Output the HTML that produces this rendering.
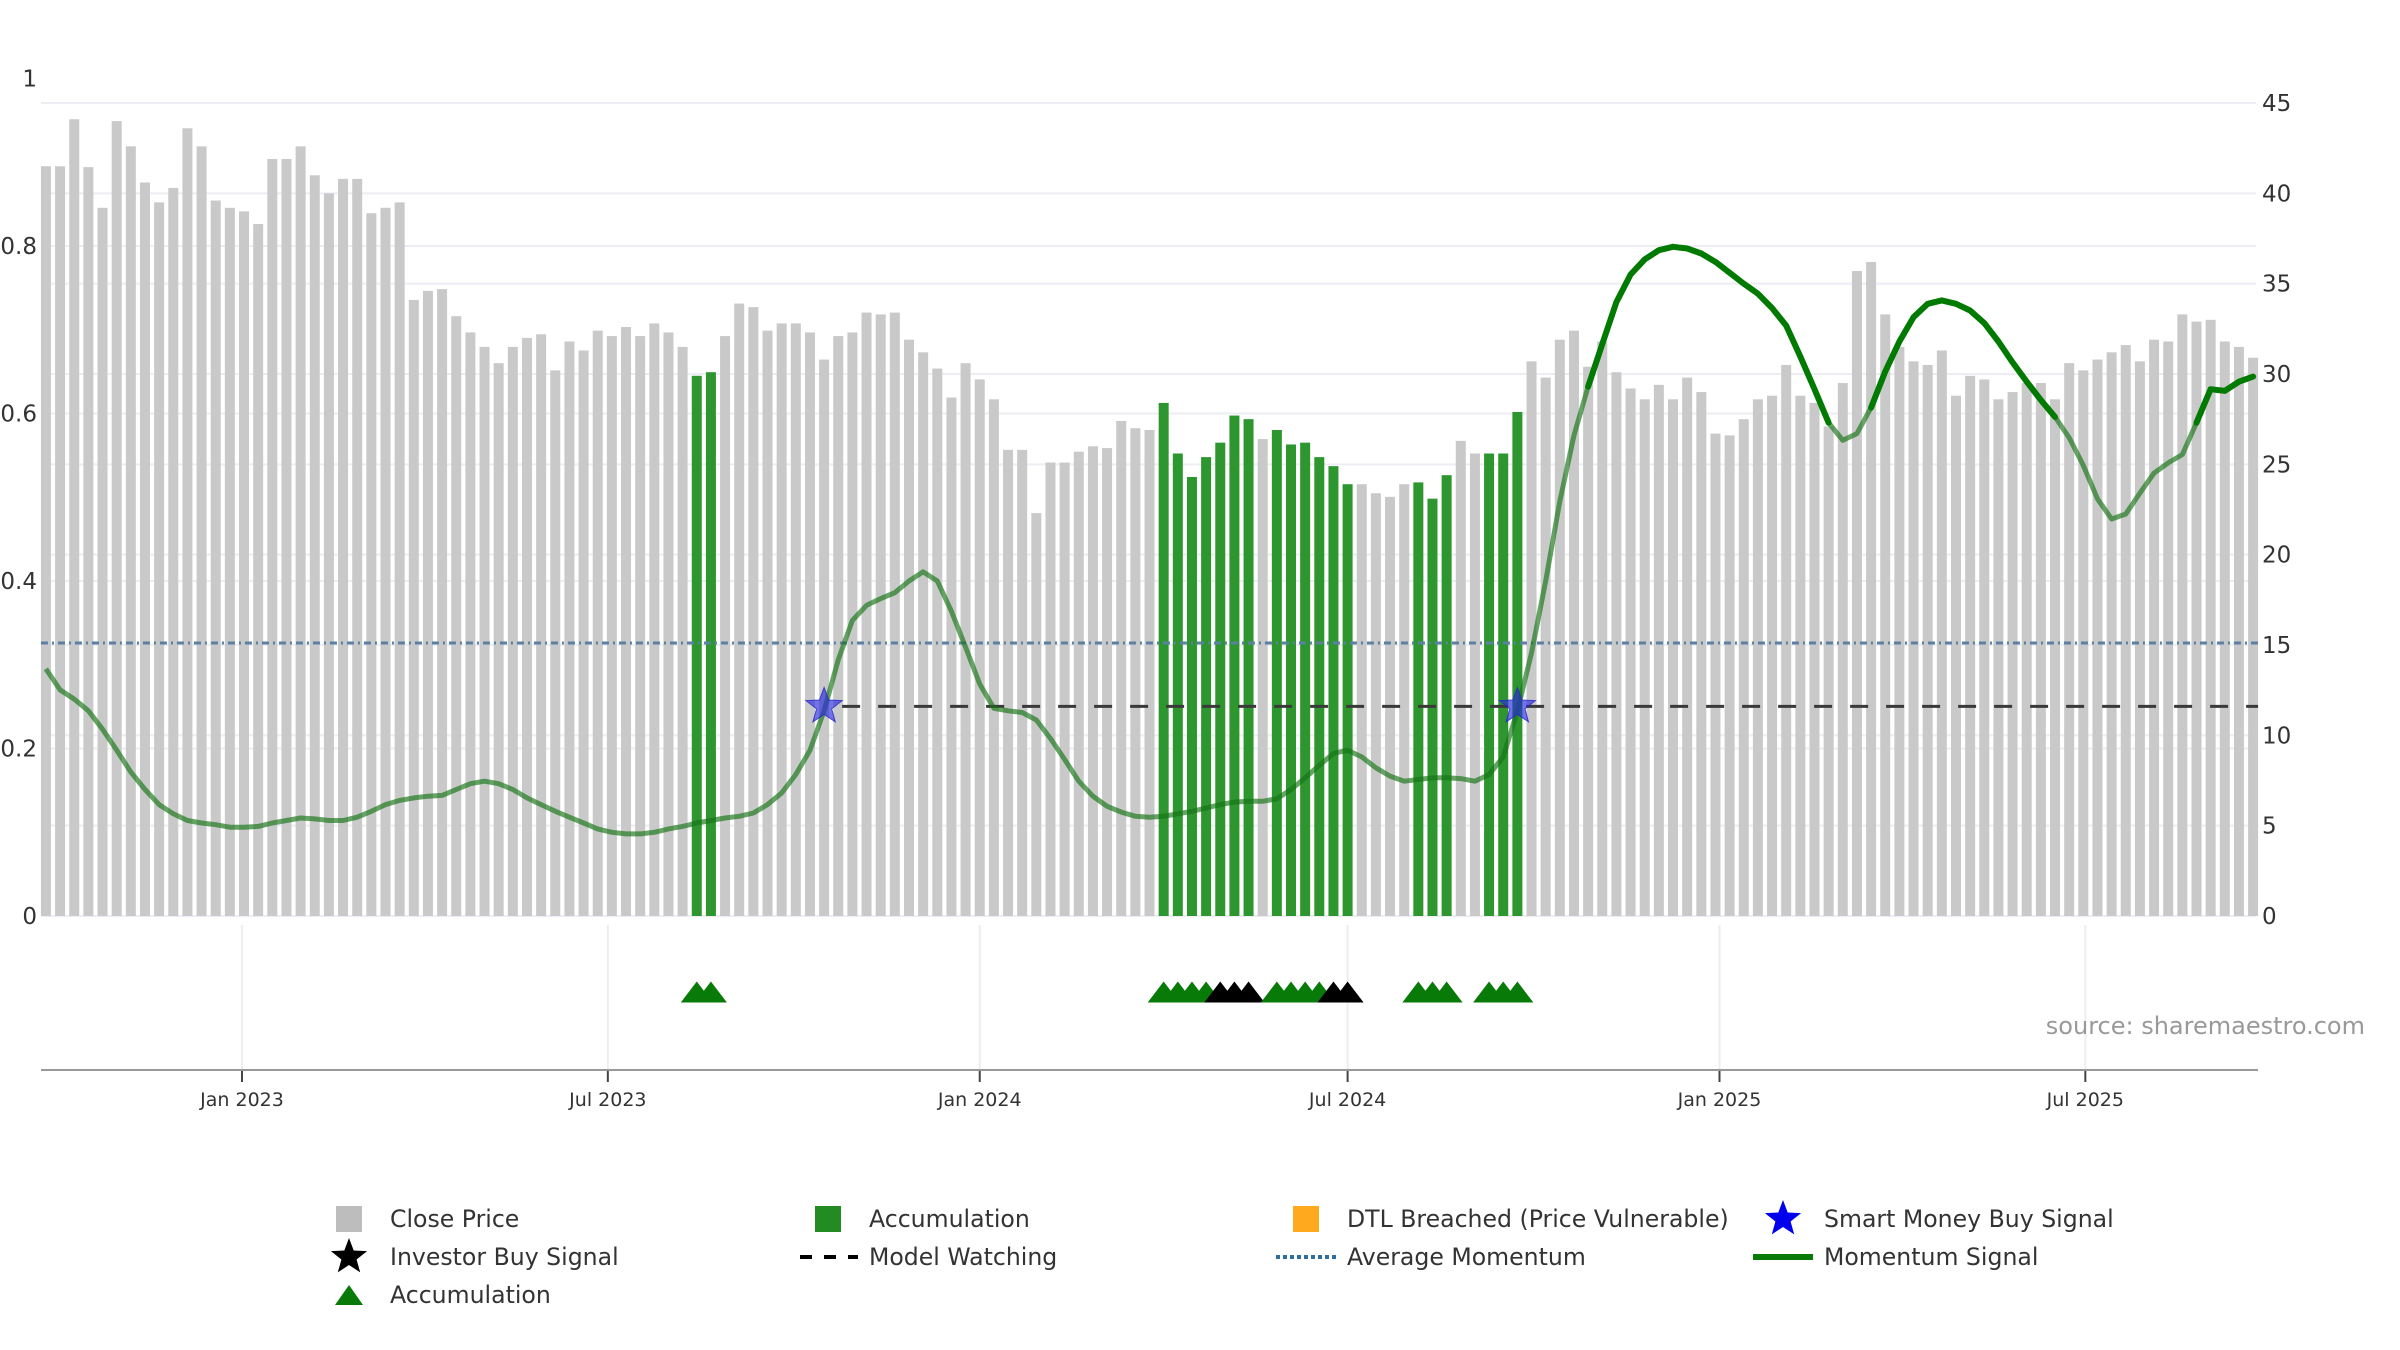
<!DOCTYPE html>
<html>
<head>
<meta charset="utf-8">
<style>
html,body{margin:0;padding:0;background:#fff;}
svg{display:block;font-family:"DejaVu Sans","Liberation Sans",sans-serif;}
</style>
</head>
<body>
<svg id="chart" width="2400" height="1350" viewBox="0 0 2400 1350" xmlns="http://www.w3.org/2000/svg">
  <g id="grid"></g>
  <g id="bars"></g>
  <g id="lines"></g>
  <g id="markers"></g>
  <g id="axes"></g>
  <text x="2365" y="1034" text-anchor="end" font-size="24" fill="#999">source: sharemaestro.com</text>
  <g id="legend"></g>
</svg>
<script>
// ---- data ----
const startDate = "2022-09-26";
const closePrice = [41.5,41.5,44.1,41.45,39.2,44.0,42.6,40.6,39.5,40.3,43.6,42.6,39.6,39.2,39.0,38.3,41.9,41.9,42.6,41.0,40.0,40.8,40.8,38.9,39.2,39.5,34.1,34.6,34.7,33.2,32.3,31.5,30.6,31.5,32.0,32.2,30.2,31.8,31.3,32.4,32.1,32.6,32.1,32.8,32.3,31.5,29.9,30.1,32.1,33.9,33.7,32.4,32.8,32.8,
32.3,30.8,32.1,32.3,33.4,33.3,33.4,31.9,31.2,30.3,28.7,30.6,29.7,28.6,25.8,25.8,22.3,25.1,25.1,25.7,26.0,25.9,27.4,27.0,26.9,28.4,25.6,24.3,25.4,26.2,27.7,27.5,26.4,26.9,26.1,26.2,25.4,24.9,23.9,23.9,23.4,23.2,23.9,24.0,23.1,24.4,26.3,25.6,25.6,25.6,27.9,30.7,29.8,31.9,32.4,30.4,31.8,30.1,
29.2,28.6,29.4,28.6,29.8,29.0,26.7,26.6,27.5,28.6,28.8,30.5,28.8,28.4,27.1,29.5,35.7,36.2,33.3,31.5,30.7,30.5,31.3,28.8,29.9,29.7,28.6,29.0,29.5,29.5,28.6,30.6,30.2,30.8,31.2,31.6,30.7,31.9,31.8,33.3,32.9,33.0,31.8,31.5,30.9];
const momentum = [.295,.27,.259,.245,.223,.198,.172,.151,.133,.122,.114,.111,.109,.106,.106,.107,.111,.114,.117,.116,.114,.114,.118,.125,.133,.138,.141,.143,.144,.151,.158,.161,.158,.151,.141,.133,.125,.118,.111,.104,.100,.098,.098,.100,.104,.107,.111,.114,.117,.119,.123,.133,.147,.169,.198,.245,.306,.353,.371,.379,.386,.40,.411,.40,.364,.321,.277,.248,.245,.243,.234,.212,.187,.161,.143,.131,.124,.119,.118,.119,.122,.125,.129,.133,.136,.137,.137,.14,.151,.165,.18,.194,.198,.19,.177,.167,.161,.163,.165,.165,.164,.161,.169,.19,.245,.314,.40,.495,.574,.632,.683,.733,.766,.784,.795,.799,.797,.791,.781,.768,.755,.743,.726,.705,.668,.629,.589,.568,.576,.607,.65,.686,.715,.731,.735,.731,.723,.708,.686,.661,.638,.616,.596,.571,.538,.498,.474,.48,.505,.529,.541,.551,.589,.629,.627,.638,.644];
const accumulationWeeks = [46,47,79,80,81,82,83,84,85,87,88,89,90,91,92,97,98,99,102,103,104];
const investorBuyWeeks = [83,84,85,91,92];
const smartMoneyWeeks = [55,104];
const smartMoneyLevel = 11.6;
const avgMomentum = 0.326;
const leftTicks = [0,0.2,0.4,0.6,0.8,1];
const leftTickLabels = ["0","0.2","0.4","0.6","0.8","1"];
const rightTicks = [0,5,10,15,20,25,30,35,40,45];
const monthTicks = ["2023-01-01","2023-07-01","2024-01-01","2024-07-01","2025-01-01","2025-07-01"];
const monthLabels = ["Jan 2023","Jul 2023","Jan 2024","Jul 2024","Jan 2025","Jul 2025"];

// ---- scales ----
const NS = "http://www.w3.org/2000/svg";
const X0 = 41, X1 = 2256, BASE = 916;
const origin = Date.UTC(2023,0,1);
function dayOf(s){ const p=s.split("-"); return (Date.UTC(+p[0],+p[1]-1,+p[2])-origin)/86400000; }
function xDay(d){ return 242 + d*2.0212; }
const startDay = dayOf(startDate);
function xIdx(i){ return xDay(startDay + 7*i); }
function yR(v){ return BASE - v*(813/45); }
function yL(v){ return BASE - v*837.5; }
function el(tag, attrs, parent){ const e=document.createElementNS(NS,tag); for(const k in attrs) e.setAttribute(k,attrs[k]); parent.appendChild(e); return e; }
function starPts(cx,cy,R){ const r=R*0.42; let p=[]; for(let k=0;k<10;k++){ const a=-Math.PI/2+k*Math.PI/5; const rr=k%2?r:R; p.push((cx+rr*Math.cos(a)).toFixed(1)+","+(cy+rr*Math.sin(a)).toFixed(1)); } return p.join(" "); }
function triPts(cx,cy,w,h){ return (cx-w/2)+","+(cy+h/2)+" "+cx+","+(cy-h/2)+" "+(cx+w/2)+","+(cy+h/2); }

const grid=document.getElementById("grid"), bars=document.getElementById("bars"), lines=document.getElementById("lines"), markers=document.getElementById("markers"), axes=document.getElementById("axes"), legend=document.getElementById("legend");

// gridlines
rightTicks.forEach(v=>{
  const g = el("line",{x1:X0,x2:X1,y1:yR(v),y2:yR(v),stroke:"#eceef3","stroke-width":2},grid);
  
  
  const t = el("text",{x:2262,y:yR(v)+8,"font-size":23,fill:"#333"},axes);
  t.textContent=String(v);
  
  
});
leftTicks.forEach((v,i)=>{
  if(v>0 && v<1){
    const g = el("line",{x1:X0,x2:X1,y1:yL(v),y2:yL(v),stroke:"#eceef3","stroke-width":2},grid);
    
    
  }
  const t = el("text",{x:37,y:yL(v)+8,"font-size":23,fill:"#333","text-anchor":"end"},axes);
  t.textContent=leftTickLabels[i];
  
  
});
monthTicks.forEach((m,i)=>{
  const x=xDay(dayOf(m));
  const g = el("line",{x1:x,x2:x,y1:925,y2:1070,stroke:"#eceef3","stroke-width":2},grid);
  
  
  const tk = el("line",{x1:x,x2:x,y1:1070,y2:1082,stroke:"#444","stroke-width":2},axes);
  
  
  const t = el("text",{x:x,y:1106,"font-size":19,fill:"#333","text-anchor":"middle"},axes);
  t.textContent=monthLabels[i];
  
  
});
const ax = el("line",{x1:X0,x2:X1+2,y1:1070,y2:1070,stroke:"#999","stroke-width":2},axes);



// bars
closePrice.forEach((v,i)=>{
  const acc = accumulationWeeks.includes(i);
  const b = el("rect",{x:xIdx(i)-5,y:yR(v),width:10,height:BASE-yR(v),fill:acc?"#2e962e":"#c9c9c9"},bars);
  
  
});

// average momentum
const am = el("line",{x1:xIdx(0)-5,x2:xIdx(closePrice.length-1)+5,y1:yL(avgMomentum),y2:yL(avgMomentum),stroke:"#5b80a3","stroke-width":3,"stroke-dasharray":"7 4 2 4"},lines);



// model watching
const mw = el("line",{x1:xIdx(smartMoneyWeeks[0])+18,x2:xIdx(closePrice.length-1)+5,y1:yR(smartMoneyLevel),y2:yR(smartMoneyLevel),stroke:"#3a3a3a","stroke-width":3,"stroke-dasharray":"18 18"},lines);



// momentum line
let d="";
momentum.forEach((v,i)=>{ d+=(i?"L":"M")+xIdx(i).toFixed(1)+","+yL(v).toFixed(1); });
const ml = el("path",{d:d,fill:"none",stroke:"rgba(20,115,20,0.65)","stroke-width":5,"stroke-linejoin":"round"},lines);


let ds="";
for(let i=0;i<momentum.length-1;i++){
  if(Math.min(momentum[i],momentum[i+1])>=0.58){
    ds+="M"+xIdx(i).toFixed(1)+","+yL(momentum[i]).toFixed(1)+"L"+xIdx(i+1).toFixed(1)+","+yL(momentum[i+1]).toFixed(1);
  }
}
const ms = el("path",{d:ds,fill:"none",stroke:"#007a00","stroke-width":6,"stroke-linecap":"round"},lines);



// stars
smartMoneyWeeks.forEach(i=>{
  const s = el("polygon",{points:starPts(xIdx(i),yR(smartMoneyLevel),19),fill:"rgba(40,40,220,0.65)",stroke:"rgba(40,40,200,0.8)","stroke-width":1},markers);
  
  
});
// triangles
accumulationWeeks.forEach(i=>{
  const blk = investorBuyWeeks.includes(i);
  const t = el("polygon",{points:triPts(xIdx(i),992,32,21),fill:blk?"#000":"#087a08"},markers);
  
  
});

// legend
const cols=[349,828,1306,1783], rows=[1219,1257,1295];
const items=[
 {c:0,r:0,t:"Close Price",k:"sq",f:"#bdbdbd",n:"legend-close-price"},
 {c:1,r:0,t:"Accumulation",k:"sq",f:"#228b22",n:"legend-accumulation-bar"},
 {c:2,r:0,t:"DTL Breached (Price Vulnerable)",k:"sq",f:"#ffa91f",n:"legend-dtl-breached"},
 {c:3,r:0,t:"Smart Money Buy Signal",k:"star",f:"#0000ee",n:"legend-smart-money"},
 {c:0,r:1,t:"Investor Buy Signal",k:"star",f:"#000",n:"legend-investor-buy"},
 {c:1,r:1,t:"Model Watching",k:"dash",f:"#000",n:"legend-model-watching"},
 {c:2,r:1,t:"Average Momentum",k:"dot",f:"#2f6fa0",n:"legend-average-momentum"},
 {c:3,r:1,t:"Momentum Signal",k:"line",f:"#087a08",n:"legend-momentum-signal"},
 {c:0,r:2,t:"Accumulation",k:"tri",f:"#087a08",n:"legend-accumulation-triangle"}
];
items.forEach(it=>{
  const cx=cols[it.c], cy=rows[it.r];
  const g=el("g",{},legend);
  
  
  if(it.k==="sq") el("rect",{x:cx-13,y:cy-13,width:26,height:26,fill:it.f},g);
  if(it.k==="star") el("polygon",{points:starPts(cx,cy,19),fill:it.f},g);
  if(it.k==="tri") el("polygon",{points:triPts(cx,cy,28,20),fill:it.f},g);
  if(it.k==="dash") el("line",{x1:cx-30,x2:cx+30,y1:cy,y2:cy,stroke:it.f,"stroke-width":4,"stroke-dasharray":"12 12","stroke-dashoffset":"-2"},g);
  if(it.k==="dot") el("line",{x1:cx-30,x2:cx+30,y1:cy,y2:cy,stroke:it.f,"stroke-width":4,"stroke-dasharray":"4 3"},g);
  if(it.k==="line") el("line",{x1:cx-30,x2:cx+30,y1:cy,y2:cy,stroke:it.f,"stroke-width":6},g);
  const t=el("text",{x:cx+41,y:cy+8,"font-size":23.6,fill:"#333"},g);
  t.textContent=it.t;
});
</script>
</body>
</html>
